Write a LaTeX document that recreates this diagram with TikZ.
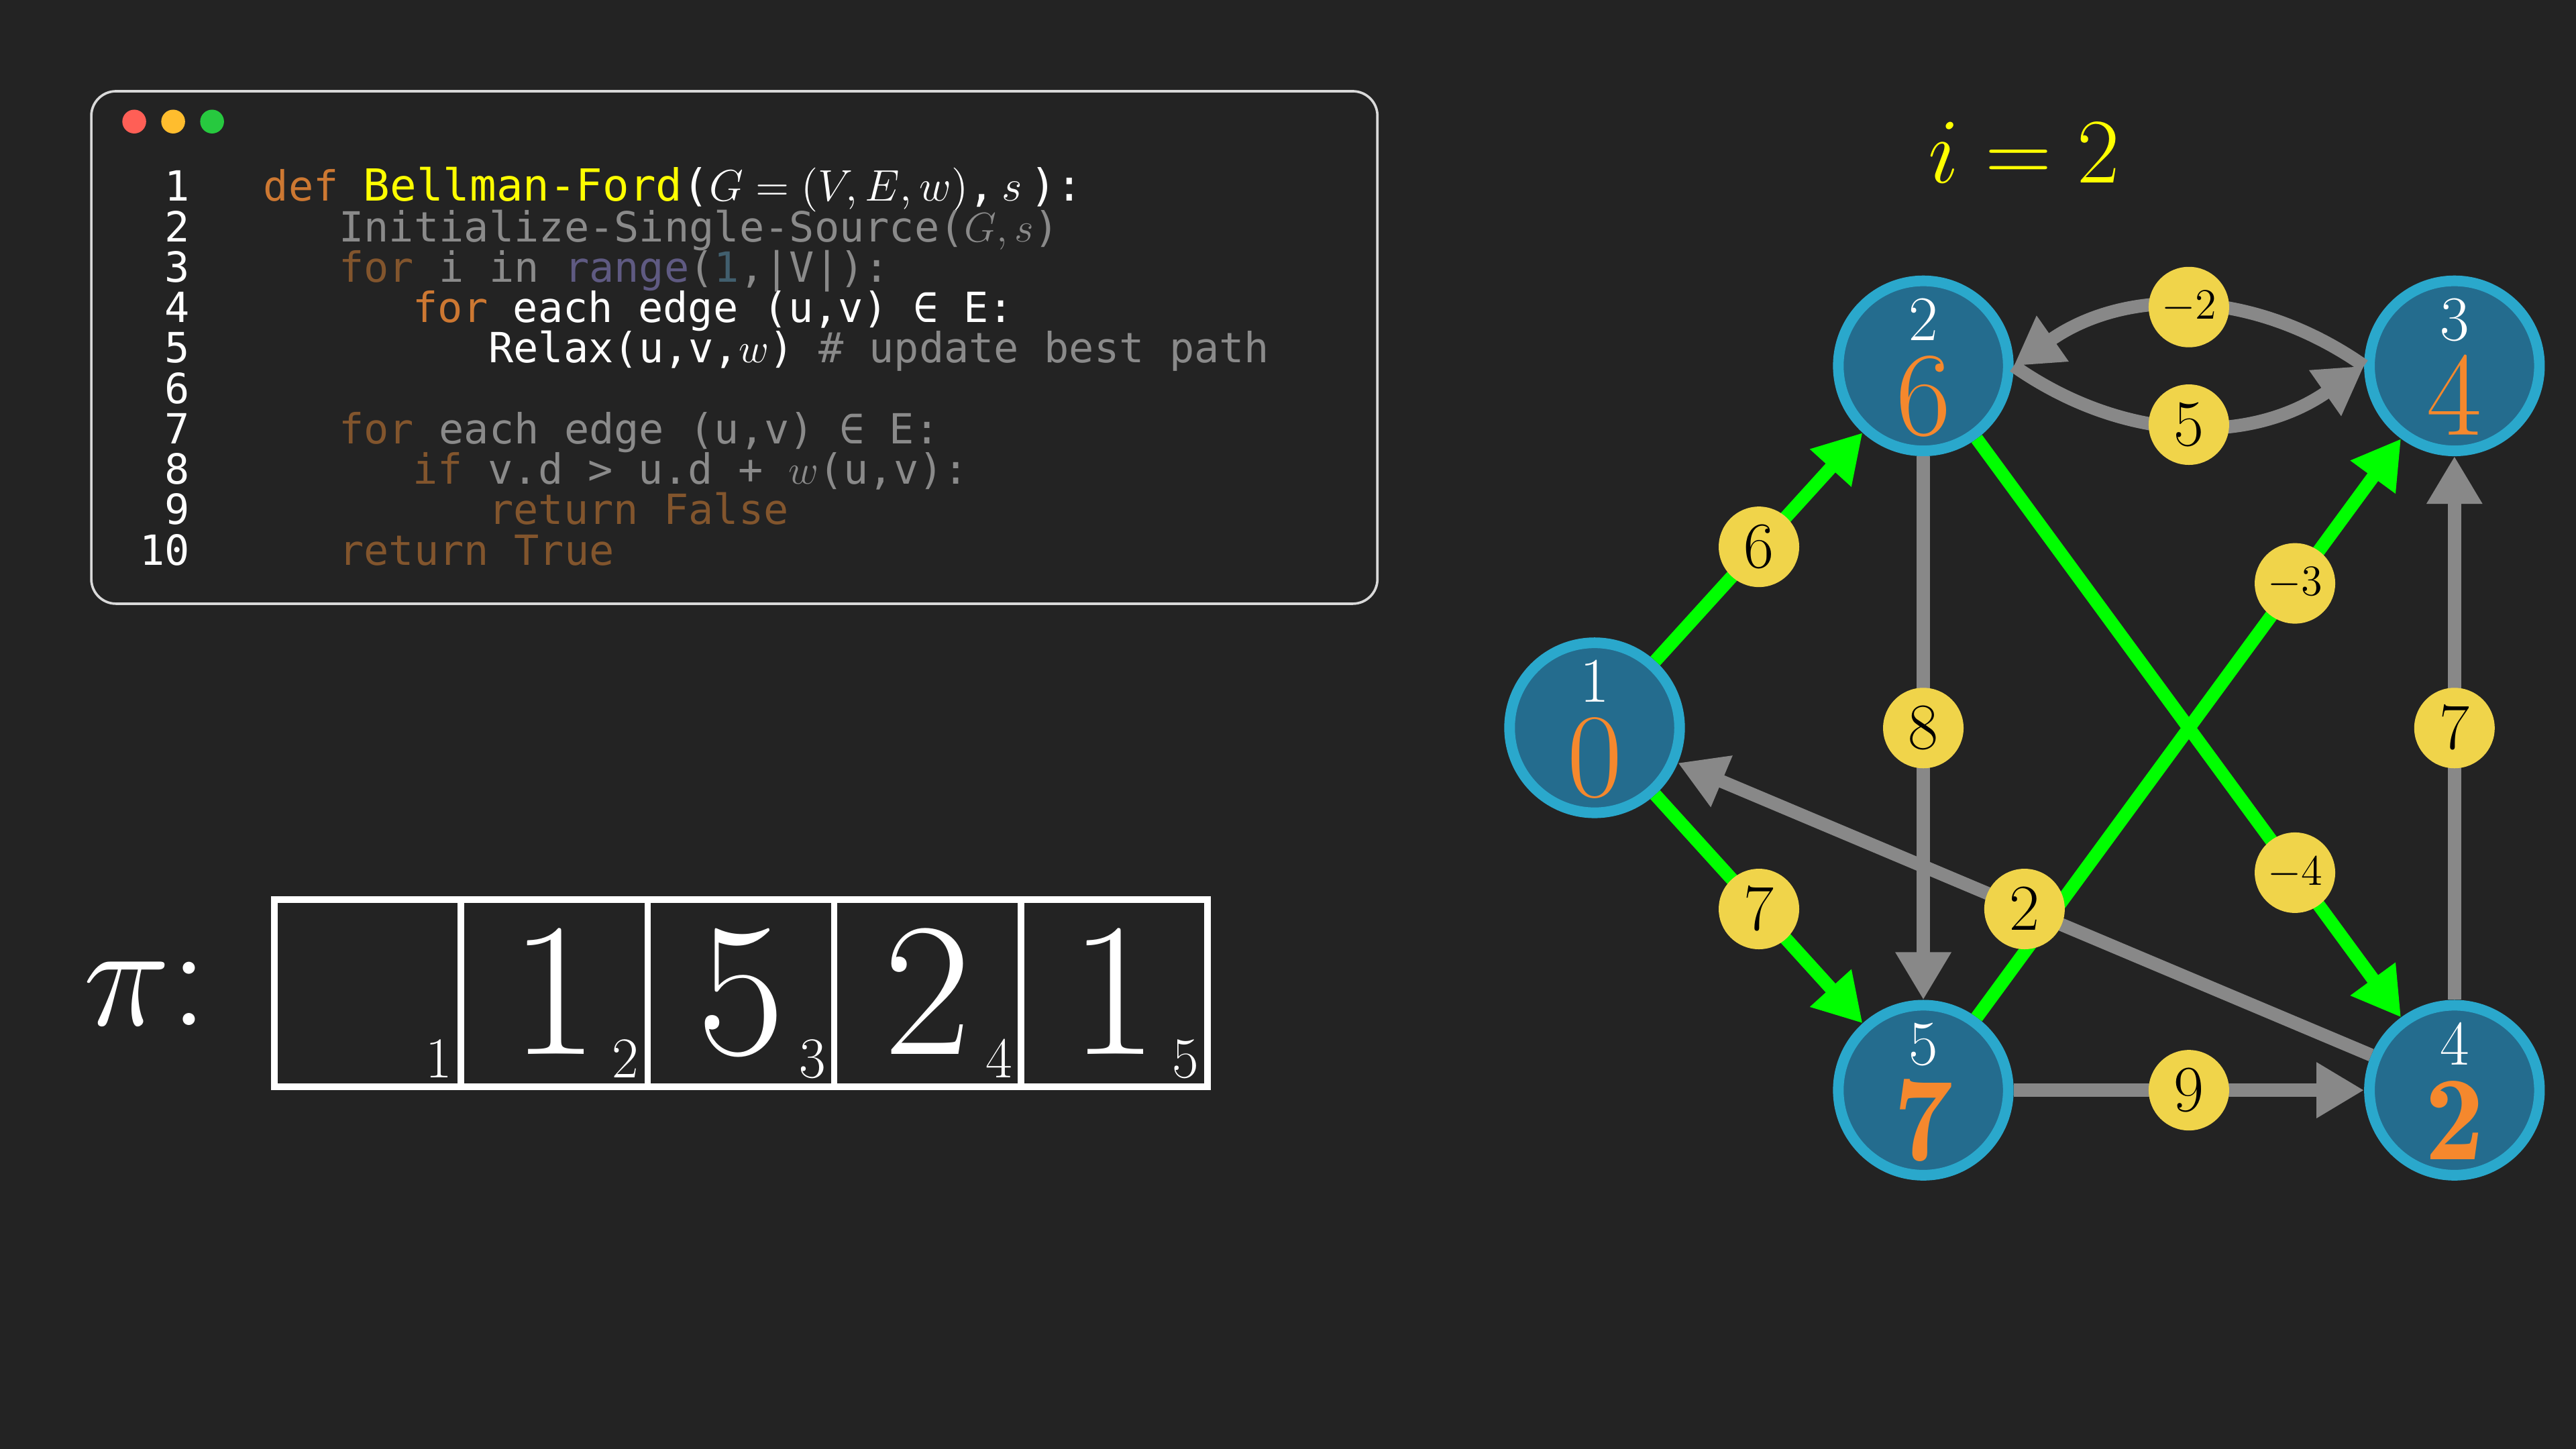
\documentclass[tikz,border=0pt]{standalone}
\usepackage{fix-cm}
\usepackage{fontspec}
\setmonofont{DejaVu Sans Mono}
\usepackage{xcolor}
\usepackage{tikz}
\usetikzlibrary{arrows.meta,positioning,calc}

\definecolor{bg}{HTML}{232323}
\definecolor{kwd}{HTML}{CD7832}
\definecolor{kwdim}{HTML}{82552D}
\definecolor{fn}{HTML}{FFFF00}
\definecolor{dimtxt}{HTML}{8A8A8A}
\definecolor{rng}{HTML}{5F5A82}
\definecolor{num}{HTML}{415F6E}
\definecolor{vfill}{HTML}{246C8E}
\definecolor{vring}{HTML}{2AA8CC}
\definecolor{distc}{HTML}{F5882D}
\definecolor{wfill}{HTML}{F0D44A}
\definecolor{treec}{HTML}{00FF00}
\definecolor{relaxc}{HTML}{888888}
\definecolor{macred}{HTML}{FF5F56}
\definecolor{macyellow}{HTML}{FFBD2E}
\definecolor{macgreen}{HTML}{27C93F}

\begin{document}
\begin{tikzpicture}[x=0.02cm,y=-0.02cm,
  every matrix/.style={ampersand replacement=\&,column sep=-0.08cm},
  window/.style={draw=white!85!black,line width=0.03cm,rounded corners=0.3cm,fill=bg,
    minimum width=15.66cm,minimum height=6.24cm},
  dot/.style={circle,minimum size=0.29cm,inner sep=0pt},
  code/.style={anchor=base west,inner sep=0pt,text=white,font=\ttfamily\fontsize{14.4}{16}\selectfont},
  lineno/.style={code,anchor=base east},
  cell/.style={draw=white,line width=0.08cm,minimum width=2.272cm,minimum height=2.28cm,
    inner sep=0pt,text=white,font=\fontsize{66}{70}\selectfont},
  idx/.style={anchor=south east,inner sep=0pt,text=white,font=\fontsize{20}{22}\selectfont},
  vertex/.style={circle,draw=vring,fill=vfill,line width=0.13cm,minimum size=2.07cm,inner sep=0pt},
  vid/.style={inner sep=0pt,text=white,font=\fontsize{22}{24}\selectfont},
  dist/.style={inner sep=0pt,text=distc,font=\fontsize{41.5}{44}\selectfont},
  weight/.style={circle,fill=wfill,minimum size=0.98cm,inner sep=0pt,text=black,
    font=\fontsize{22.7}{24}\selectfont},
  negw/.style={weight,font=\fontsize{15}{16}\selectfont},
  edgegray/.style={->,draw=relaxc,line width=0.16cm},
  edgegreen/.style={->,draw=treec,line width=0.16cm},
  >={Triangle[length=0.58cm,width=0.64cm]}]

  \fill[bg] (0,0) rectangle (1568,882);
  \useasboundingbox (0,0) rectangle (1568,882);

  \node[window] (win) at (447,211.5) {};
  \node[dot,fill=macred] (close) at (81.7,74) {};
  \node[dot,fill=macyellow,right=0.17cm of close] (shrink) {};
  \node[dot,fill=macgreen,right=0.17cm of shrink] (grow) {};

  \foreach \n in {1,...,10}
    \node[lineno] (ln\n) at (116,{97.9+24.6*\n}) {\n};

  \node[code] (code1) at (160,122.5) {\textcolor{kwd}{def} {\fontsize{15.3}{16}\selectfont\textcolor{fn}{Bellman-Ford}($\fontsize{16}{18}\selectfont G=(V,E,w)$,\,$\fontsize{16}{18}\selectfont s$\,):}};
  \node[code,text=dimtxt] (code2) at (206,147.1) {Initialize-Single-Source($G,s$)};
  \node[code,text=dimtxt] (code3) at (206,171.7) {\textcolor{kwdim}{for} i in \textcolor{rng}{range}(\textcolor{num}{1},|V|):};
  \node[code] (code4) at (251,196.3) {\textcolor{kwd}{for} each edge (u,v) ∈ E:};
  \node[code] (code5) at (297,220.9) {Relax(u,v,$w$) \textcolor{dimtxt}{\# update best path}};
  \node[code,text=dimtxt] (code7) at (206,270.1) {\textcolor{kwdim}{for} each edge (u,v) ∈ E:};
  \node[code,text=dimtxt] (code8) at (251,294.7) {\textcolor{kwdim}{if} v.d > u.d + $w$(u,v):};
  \node[code,text=kwdim] (code9) at (297,319.3) {return False};
  \node[code,text=kwdim] (code10) at (206,343.9) {return True};

  \node[anchor=base,inner sep=0pt,text=white,font=\fontsize{51}{56}\selectfont] (pilabel) at (88.5,624) {$\pi\colon$};

  \matrix (pi) at (451,604.5) {
    \node[cell](p1){};
      \& \node[cell](p2){$1$};
      \& \node[cell](p3){$5$};
      \& \node[cell](p4){$2$};
      \& \node[cell](p5){$1$}; \\
  };
  \foreach \k in {1,...,5}
    \node[idx] (s\k) at ([shift={(-7,-7)}]p\k.south east) {$\k$};

  \node[text=fn,font=\fontsize{32}{36}\selectfont] (iter) at (1232,93) {$i=2$};

  \foreach \v/\x/\y/\d in {1/970.6/443/0, 2/1170.7/222.7/6, 3/1494/222.7/4,
      4/1494/663.6/\mathbf{2}, 5/1170.7/663.6/\mathbf{7}} {
    \node[vertex] (v\v) at (\x,\y) {};
    \node[vid] (v\v id) at ([shift={(0,-28)}]v\v.center) {$\v$};
    \node[dist] (v\v d) at ([shift={(0,18.5)}]v\v.center) {$\d$};
  }

  \draw[edgegray] (v2.east) to[bend right=35] node[weight](w23){$5$} (v3.west);
  \draw[edgegray] (v3.west) to[bend right=35] node[negw](w32){$-2$} (v2.east);
  \draw[edgegray] (v2) -- node[weight](w25){$8$} (v5);
  \draw[edgegray] (v4) -- node[weight](w43){$7$} (v3);
  \draw[edgegray] (v5) -- node[weight](w54){$9$} (v4);
  \draw[edgegreen] (v1) -- node[weight](w12){$6$} (v2);
  \draw[edgegreen] (v1) -- node[weight](w15){$7$} (v5);
  \draw[edgegreen] (v2) -- node[negw,pos=0.75](w24){$-4$} (v4);
  \draw[edgegreen] (v5) -- node[negw,pos=0.75](w53){$-3$} (v3);
  \draw[edgegray] (v4) -- node[weight](w41){$2$} (v1);
\end{tikzpicture}
\end{document}
